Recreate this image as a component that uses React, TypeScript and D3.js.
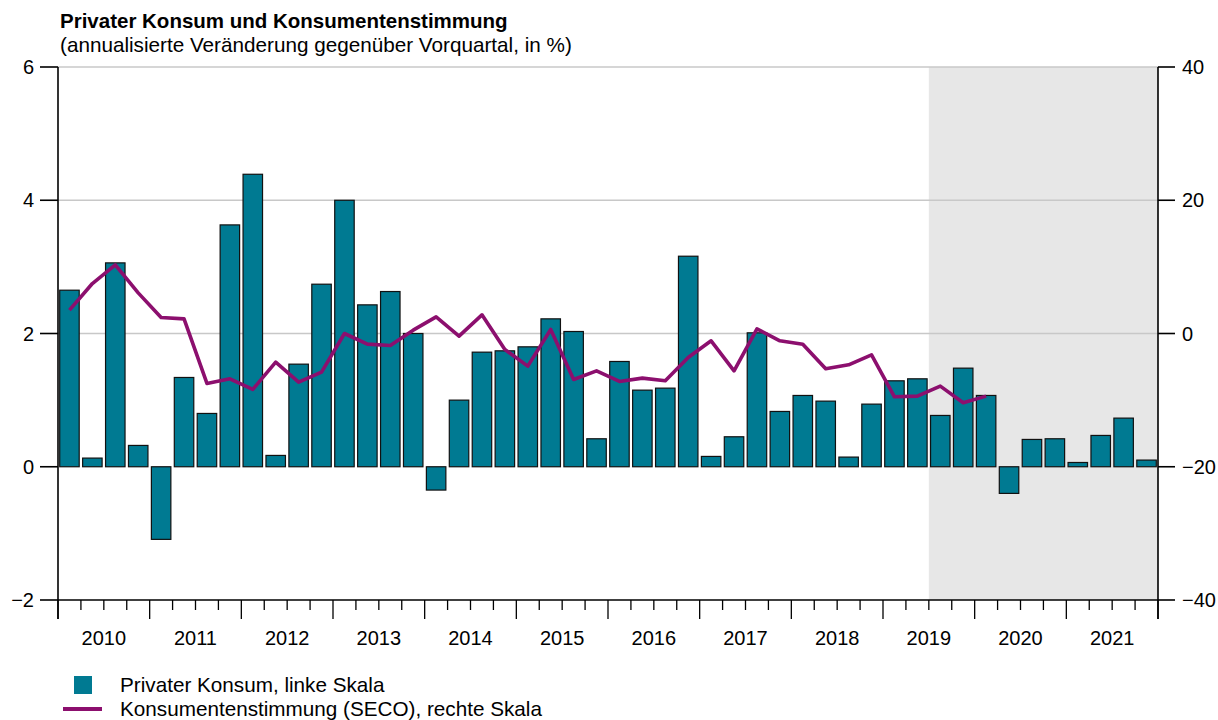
import * as d3 from 'd3';

// quarterly data 2010Q1 - 2021Q4
const years = [2010, 2011, 2012, 2013, 2014, 2015, 2016, 2017, 2018, 2019, 2020, 2021];
const quarters = years.flatMap(y => [1, 2, 3, 4].map(q => `${y}Q${q}`));

// Privater Konsum (annualisiert, %), linke Skala
const konsum = [
  2.65, 0.13, 3.06, 0.32,
  -1.09, 1.34, 0.8, 3.63,
  4.39, 0.17, 1.54, 2.74,
  4.0, 2.43, 2.63, 2.0,
  -0.35, 1.0, 1.72, 1.74,
  1.8, 2.22, 2.03, 0.42,
  1.58, 1.15, 1.18, 3.16,
  0.155, 0.45, 2.01, 0.83,
  1.07, 0.985, 0.145, 0.94,
  1.29, 1.32, 0.77, 1.48,
  1.07, -0.4, 0.41, 0.42,
  0.064, 0.47, 0.73, 0.1,
];

// Konsumentenstimmung (SECO), rechte Skala – bis 2020Q1
const stimmung = [
  3.5, 7.5, 10.3, 6.1,
  2.4, 2.2, -7.5, -6.8,
  -8.4, -4.3, -7.3, -5.8,
  0.0, -1.6, -1.8, 0.5,
  2.5, -0.4, 2.8, -2.4,
  -4.9, 0.6, -6.9, -5.6,
  -7.2, -6.7, -7.1, -3.6,
  -1.1, -5.6, 0.7, -1.1,
  -1.6, -5.3, -4.7, -3.2,
  -9.5, -9.4, -7.9, -10.4,
  -9.4,
];

const leftTicks = [-2, 0, 2, 4, 6];
const rightTicks = [-40, -20, 0, 20, 40];
const gridTicks = [2, 4, 6];
const shadeFrom = '2019Q3';

const W = 1218;
const H = 720;
const m = { left: 58, right: 1158, top: 67, bottom: 600 };
const font = '"Liberation Sans", Arial, Helvetica, sans-serif';
const barColor = '#007A92';
const lineColor = '#8C0F6E';
const fs = 20;
const fsText = 20.7;

export default function App() {
  const x = d3.scaleBand<string>().domain(quarters).range([m.left, m.right])
    .paddingInner(0.15).paddingOuter(0.075);
  const yL = d3.scaleLinear().domain([-2, 6]).range([m.bottom, m.top]);
  const yR = d3.scaleLinear().domain([-40, 40]).range([m.bottom, m.top]);
  const fmt = d3.format('');
  const half = (x.step() - x.bandwidth()) / 2;
  const bound = (i: number) => (i < quarters.length ? (x(quarters[i]) as number) - half : m.right);

  const line = d3.line<number>()
    .x((_, i) => (x(quarters[i]) as number) + x.bandwidth() / 2)
    .y(d => yR(d));

  const shadeX = bound(quarters.indexOf(shadeFrom));

  return (
    <svg width={W} height={H} style={{ position: 'absolute', left: 0, top: 0, fontFamily: font }}>
      <rect width={W} height={H} fill="#fff" />
      <text x={60} y={28} fontSize={20.5} fontWeight="bold">Privater Konsum und Konsumentenstimmung</text>
      <text x={60} y={52} fontSize={fsText}>(annualisierte Veränderung gegenüber Vorquartal, in %)</text>

      {/* prognose shading */}
      <rect x={shadeX} y={m.top} width={m.right - shadeX} height={m.bottom - m.top} fill="#E7E7E7" />

      {gridTicks.map(t => (
        <line key={t} x1={m.left} x2={m.right} y1={yL(t)} y2={yL(t)} stroke="#C8C8C8" strokeWidth={1.5} />
      ))}

      {konsum.map((v, i) => (
        <rect key={quarters[i]}
          x={x(quarters[i])} width={x.bandwidth()}
          y={Math.min(yL(v), yL(0))} height={Math.abs(yL(v) - yL(0))}
          fill={barColor} stroke="#111" strokeWidth={1.2} />
      ))}

      <path d={line(stimmung) ?? ''} fill="none" stroke={lineColor} strokeWidth={3.6} strokeLinejoin="round" />

      {/* left axis */}
      <line x1={m.left} x2={m.left} y1={m.top} y2={m.bottom + 19} stroke="#000" strokeWidth={1.6} />
      {leftTicks.map(t => (
        <g key={t}>
          <line x1={m.left - 18} x2={m.left} y1={yL(t)} y2={yL(t)} stroke="#000" strokeWidth={1.6} />
          <text x={m.left - 24} y={yL(t)} dy="0.35em" textAnchor="end" fontSize={fs}>{fmt(t)}</text>
        </g>
      ))}

      {/* right axis */}
      <line x1={m.right} x2={m.right} y1={m.top} y2={m.bottom + 19} stroke="#000" strokeWidth={1.6} />
      {rightTicks.map(t => (
        <g key={t}>
          <line x1={m.right} x2={m.right + 17} y1={yR(t)} y2={yR(t)} stroke="#000" strokeWidth={1.6} />
          <text x={m.right + 24} y={yR(t)} dy="0.35em" fontSize={fs}>{fmt(t)}</text>
        </g>
      ))}

      {/* bottom axis */}
      <line x1={m.left} x2={m.right} y1={m.bottom} y2={m.bottom} stroke="#000" strokeWidth={1.6} />
      {d3.range(quarters.length + 1).map(i => (
        <line key={i} x1={bound(i)} x2={bound(i)} y1={m.bottom}
          y2={m.bottom + (i % 4 === 0 ? 19 : 10)} stroke="#000" strokeWidth={1.3} />
      ))}
      {years.map((yr, j) => (
        <text key={yr} x={(bound(j * 4) + bound(j * 4 + 4)) / 2} y={645} textAnchor="middle" fontSize={fs}>{yr}</text>
      ))}

      {/* legend */}
      <rect x={74} y={676} width={18} height={18} fill={barColor} />
      <text x={120} y={692} fontSize={fsText}>Privater Konsum, linke Skala</text>
      <line x1={63} x2={102} y1={709} y2={709} stroke={lineColor} strokeWidth={3.8} />
      <text x={120} y={716} fontSize={fsText}>Konsumentenstimmung (SECO), rechte Skala</text>
    </svg>
  );
}
